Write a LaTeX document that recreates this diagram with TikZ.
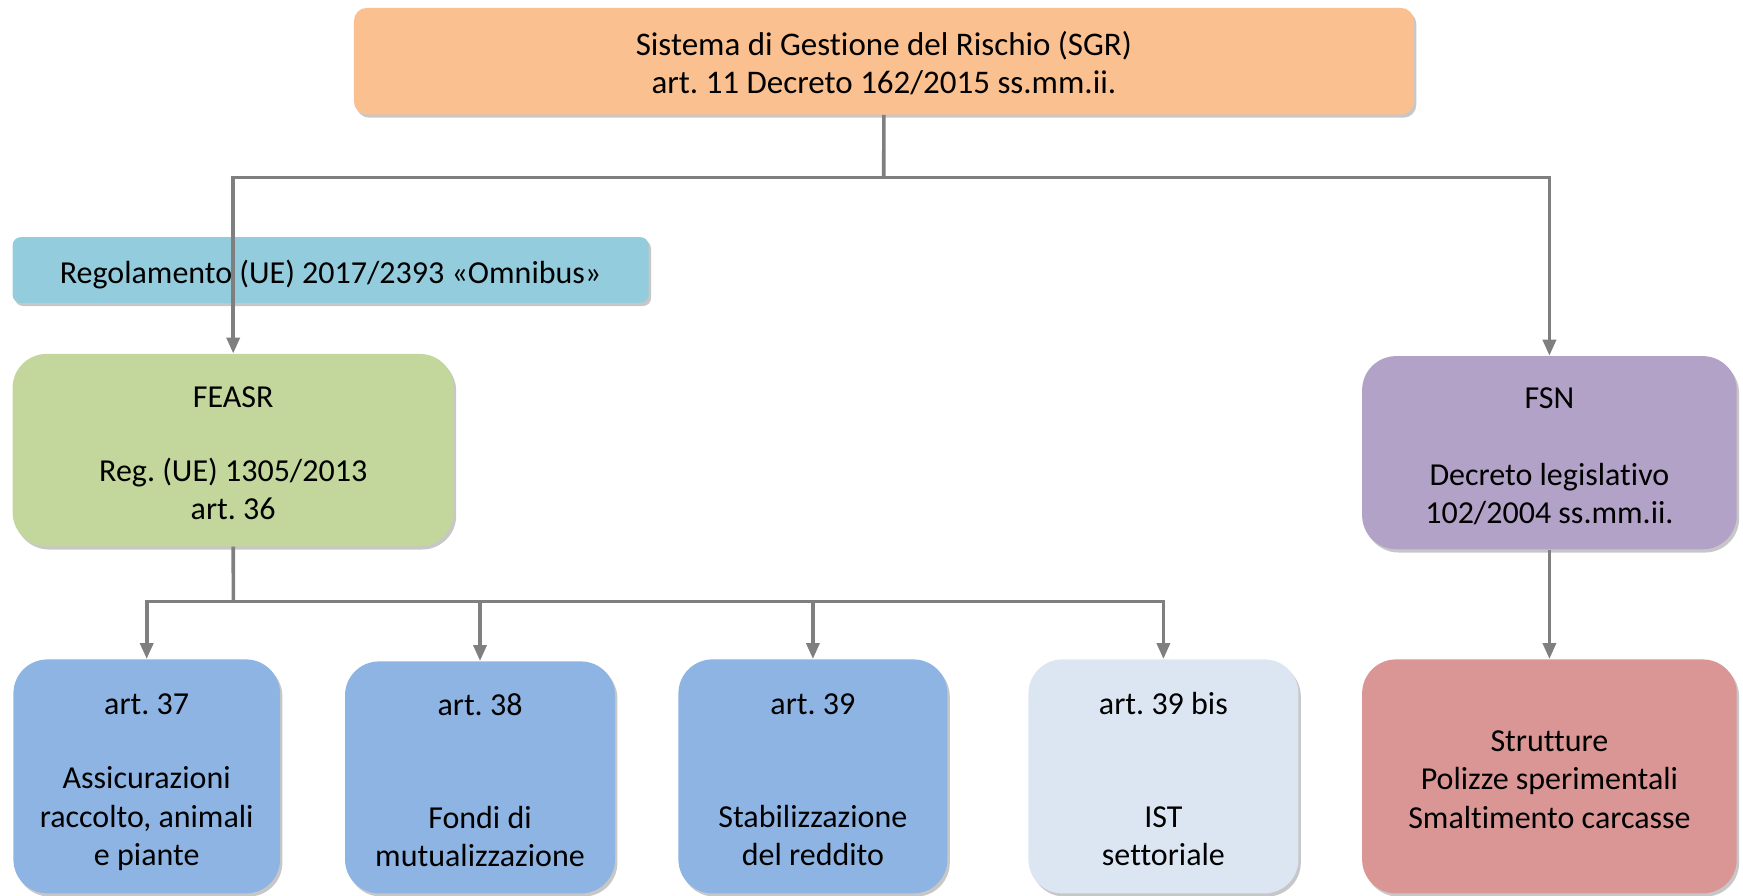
\documentclass[tikz,border=0pt]{standalone}
\usepackage{fontspec}
\setmainfont{Carlito}[RawFeature={-liga;-dlig;-clig}]
\frenchspacing
\usetikzlibrary{arrows.meta,shadows}

\definecolor{sgrorange}{HTML}{FAC090}
\definecolor{omniblue}{HTML}{93CDDD}
\definecolor{feasrgreen}{HTML}{C3D69B}
\definecolor{fsnpurple}{HTML}{B3A2C7}
\definecolor{artblue}{HTML}{8EB4E3}
\definecolor{bislight}{HTML}{DCE6F2}
\definecolor{fsnred}{HTML}{D99694}
\definecolor{linkgray}{HTML}{7F7F7F}

% line box as Word sets it
\newcommand{\topstrut}{\rule{0pt}{17.6pt}}
\newcommand{\botstrut}{\rule[-4.3pt]{0pt}{4.3pt}}

\begin{document}
\begin{tikzpicture}[x=0.5pt,y=0.5pt,yscale=-1,xscale=1,
    box/.style={anchor=north west,inner sep=0pt,align=center,text=black,
      font=\fontsize{16}{19.2}\selectfont,execute at end node=\botstrut,
      drop shadow={shadow xshift=1.2pt,shadow yshift=-1.6pt,fill=black,opacity=0.22}},
    line/.style={draw=linkgray,line width=1.8pt},
    link/.style={line,-{Triangle[width=6.5pt,length=8pt]}}]
				\useasboundingbox (0,0) rectangle (1743,895);

				%Shape: Rounded Rect [id:sgr] 
				\node [box,fill=sgrorange,rounded corners=6.5pt,minimum width=530pt,minimum height=53.3pt,font=\fontsize{16.5}{18.7}\selectfont] (sgr) at (353.5,7.5) {\topstrut Sistema di Gestione del Rischio (SGR)\\art. 11 Decreto 162/2015 ss.mm.ii.};
				%Shape: Rounded Rect [id:omni] 
				\node [box,fill=omniblue,rounded corners=4pt,minimum width=318pt,minimum height=32.8pt] (omni) at (12.2,236.8) {\topstrut Regolamento (UE) 2017/2393 «Omnibus»};
				%Shape: Rounded Rect [id:feasr] 
				\node [box,fill=feasrgreen,rounded corners=17pt,minimum width=220.6pt,minimum height=96.2pt] (feasr) at (12.2,353.5) {\topstrut FEASR\\[18pt]Reg. (UE) 1305/2013\\art. 36};
				%Shape: Rounded Rect [id:fsn] 
				\node [box,fill=fsnpurple,rounded corners=17pt,minimum width=187.3pt,minimum height=96.6pt] (fsn) at (1361.7,355.7) {\topstrut FSN\\[19pt]Decreto legislativo\\102/2004 ss.mm.ii.};

				%Shape: Rounded Rect [id:a37] 
				\node [box,fill=artblue,rounded corners=17pt,minimum width=133.3pt,minimum height=117pt] (a37) at (13,659) {\topstrut art. 37\\[18.1pt]Assicurazioni\\raccolto, animali\\e piante};
				%Shape: Rounded Rect [id:a38] 
				\node [box,fill=artblue,rounded corners=17pt,minimum width=135pt,minimum height=116pt] (a38) at (344.6,661) {\topstrut art. 38\\[37.3pt]Fondi di\\mutualizzazione};
				%Shape: Rounded Rect [id:a39] 
				\node [box,fill=artblue,rounded corners=17pt,minimum width=134.5pt,minimum height=117pt] (a39) at (678,659) {\topstrut art. 39\\[37.3pt]Stabilizzazione\\del reddito};
				%Shape: Rounded Rect [id:a39bis] 
				\node [box,fill=bislight,rounded corners=17pt,minimum width=135pt,minimum height=117pt] (a39bis) at (1028,659) {\topstrut art. 39 bis\\[37.3pt]IST\\settoriale};
				%Shape: Rounded Rect [id:misure] 
				\node [box,fill=fsnred,rounded corners=17pt,minimum width=187.3pt,minimum height=117pt] (misure) at (1361.7,659) {\topstrut Strutture\\Polizze sperimentali\\Smaltimento carcasse};

				%Straight Lines [id:hub] 
				\coordinate (hub) at (883.7,177.5);
				\draw [line] (sgr.south) -- (hub);
				\draw [link] (hub) -| (feasr.north);
				\draw [link] (hub) -| (fsn.north);
				%Straight Lines [id:bus] 
				\coordinate (bus) at (233.4,601.5);
				\draw [line] (feasr.south) -- (bus);
				\draw [link] (bus) -| (a37.north);
				\draw [link] (bus) -| (a38.north);
				\draw [link] (bus) -| (a39.north);
				\draw [link] (bus) -| (a39bis.north);
				%Straight Lines [id:fsnlink] 
				\draw [link] (fsn.south) -- (misure.north);

\end{tikzpicture}
\end{document}
